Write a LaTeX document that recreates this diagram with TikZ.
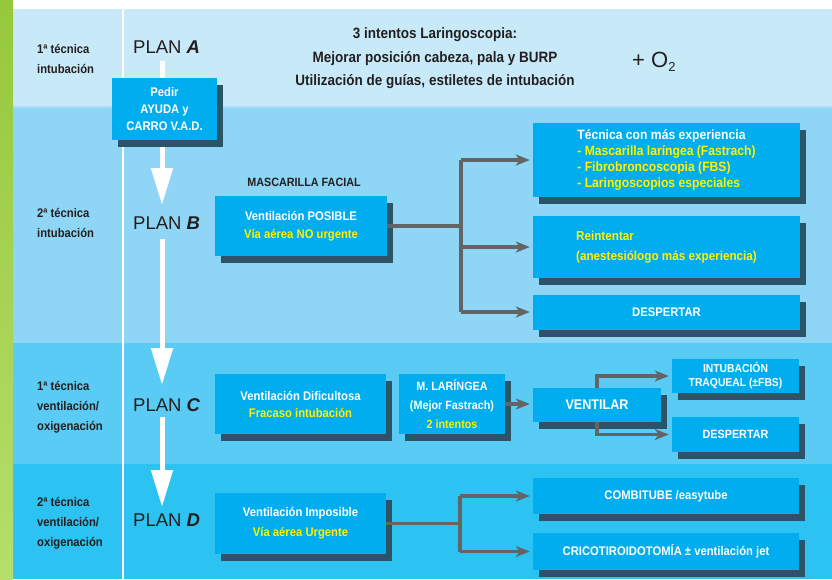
\documentclass[tikz,border=0pt]{standalone}
\usepackage{fontspec}
\setmainfont{Liberation Sans}
\newfontfamily\cf[FakeStretch=0.9]{Liberation Sans}
\usetikzlibrary{arrows.meta,shadows}

\definecolor{bandA}{HTML}{C8E9F8}
\definecolor{bandB}{HTML}{8FD6F6}
\definecolor{bandC}{HTML}{5ACBF4}
\definecolor{bandD}{HTML}{2CC3F2}
\definecolor{bandEdge}{HTML}{A6DEF7}
\definecolor{greenA}{HTML}{96C83C}
\definecolor{greenB}{HTML}{B6DE6C}
\definecolor{boxblue}{HTML}{00ADEE}
\definecolor{shade}{HTML}{2D5366}
\definecolor{hi}{HTML}{FFF200}
\definecolor{linkgray}{HTML}{636466}
\definecolor{ink}{HTML}{231F20}

\tikzset{
  box/.style={fill=boxblue, draw=none, inner sep=0pt, align=center, text=white,
    font=\cf\bfseries\fontsize{12.5}{17}\selectfont,
    drop shadow={shadow xshift=6pt, shadow yshift=-7pt, fill=shade, opacity=1}},
  link/.style={draw=linkgray, line width=3.8pt},
  arr/.style={link, -{Stealth[length=14pt,width=11pt,inset=4pt]}, shorten >=3pt},
  flow/.style={draw=white, line width=5pt, -{Triangle[length=37pt,width=21pt]}},
  lbl/.style={font=\cf\bfseries\fontsize{12.5}{20}\selectfont, text=ink, align=left,
    anchor=west, inner sep=0pt},
  plan/.style={font=\fontsize{18.5}{20}\selectfont, text=ink, inner sep=0pt, anchor=west},
}
\newcommand{\hl}[1]{\textcolor{hi}{#1}}

\begin{document}
\begin{tikzpicture}[x=1pt,y=-1pt]
\useasboundingbox (0,0) rectangle (832,579);

% background bands
\fill[white] (0,0) rectangle (832,9);
\fill[bandA] (13,9) rectangle (832,107);
\fill[bandB] (13,107) rectangle (832,342);
\fill[bandC] (13,342) rectangle (832,463);
\fill[bandD] (13,463) rectangle (832,579);
\fill[bandEdge] (13,105.5) rectangle (832,107.5);
\fill[bandB] (13,340.5) rectangle (832,342.5);
\fill[bandC] (13,461.5) rectangle (832,463.5);
\shade[top color=greenA, bottom color=greenB] (0,0) rectangle (13,579);
\fill[white] (122,9) rectangle (124,579);

% row labels
\node[lbl] (lA) at (37,59) {1ª técnica\\intubación};
\node[lbl] (lB) at (37,223) {2ª técnica\\intubación};
\node[lbl] (lC) at (37,407) {1ª técnica\\ventilación/\\oxigenación};
\node[lbl] (lD) at (37,523) {2ª técnica\\ventilación/\\oxigenación};

% plans
\node[plan] (pA) at (133,47) {PLAN \textbf{\textit{A}}};
\node[plan] (pB) at (133,223) {PLAN \textbf{\textit{B}}};
\node[plan] (pC) at (133,405) {PLAN \textbf{\textit{C}}};
\node[plan] (pD) at (133,520) {PLAN \textbf{\textit{D}}};

% flow between plans
\coordinate (fA0) at (162,61);  \coordinate (fA1) at (162,205);
\coordinate (fB0) at (162,239); \coordinate (fB1) at (162,385);
\coordinate (fC0) at (162,417); \coordinate (fC1) at (162,507);
\draw[flow] (fA0) -- (fA1);
\draw[flow] (fB0) -- (fB1);
\draw[flow] (fC0) -- (fC1);

% header of plan A
\node[font=\cf\bfseries\fontsize{15}{23.5}\selectfont, text=ink, align=center, inner sep=0pt]
  (hdr) at (435,58.5) {3 intentos Laringoscopia:\\Mejorar posición cabeza, pala y BURP\\Utilización de guías, estiletes de intubación};
\node[font=\fontsize{22}{24}\selectfont, text=ink, inner sep=0pt, anchor=west]
  (oxy) at (632,62) {+ O\raisebox{-0.3ex}{\fontsize{13}{13}\selectfont 2}};

% boxes
\node[box, minimum width=105pt, minimum height=62pt] (pedir) at (164.5,109)
  {Pedir\\AYUDA y\\CARRO V.A.D.};

\node[font=\cf\bfseries\fontsize{12}{14}\selectfont, text=ink, inner sep=0pt] (masc) at (304,182) {MASCARILLA FACIAL};
\node[box, minimum width=172pt, minimum height=60pt, font=\cf\bfseries\fontsize{12.5}{18}\selectfont] (b1) at (301,226)
  {Ventilación POSIBLE\\\hl{Vía aérea NO urgente}};

\node[box, minimum width=267pt, minimum height=74pt, align=left, font=\cf\bfseries\fontsize{13.5}{16}\selectfont] (tec) at (666.5,160)
  {Técnica con más experiencia\\\hl{- Mascarilla laríngea (Fastrach)}\\\hl{- Fibrobroncoscopia (FBS)}\\\hl{- Laringoscopios especiales}};
\node[box, minimum width=267pt, minimum height=62pt, align=left, font=\cf\bfseries\fontsize{13}{20}\selectfont] (rein) at (666.5,247)
  {\hl{Reintentar}\\\hl{(anestesiólogo más experiencia)}};
\node[box, minimum width=267pt, minimum height=35pt] (despB) at (666.5,312) {DESPERTAR};

\node[box, minimum width=171pt, minimum height=60pt] (vdif) at (300.5,404)
  {Ventilación Dificultosa\\\hl{Fracaso intubación}};
\node[box, minimum width=106pt, minimum height=60pt, font=\cf\bfseries\fontsize{12}{19}\selectfont] (mlar) at (452,404)
  {M. LARÍNGEA\\(Mejor Fastrach)\\\hl{2 intentos}};
\node[box, minimum width=128pt, minimum height=34pt, font=\cf\bfseries\fontsize{14}{16}\selectfont] (vent) at (597,405) {VENTILAR};
\node[box, minimum width=127pt, minimum height=34pt, font=\cf\bfseries\fontsize{11.5}{14}\selectfont] (intub) at (735.5,376)
  {INTUBACIÓN\\TRAQUEAL (±FBS)};
\node[box, minimum width=127pt, minimum height=35pt, font=\cf\bfseries\fontsize{12}{14}\selectfont] (despC) at (735.5,434.5) {DESPERTAR};

\node[box, minimum width=171pt, minimum height=61pt, font=\cf\bfseries\fontsize{12.5}{20}\selectfont] (vimp) at (300.5,523.5)
  {Ventilación Imposible\\\hl{Vía aérea Urgente}};
\node[box, minimum width=266pt, minimum height=36pt] (combi) at (666,496) {COMBITUBE /easytube};
\node[box, minimum width=266pt, minimum height=37pt] (crico) at (666,551.5)
  {CRICOTIROIDOTOMÍA ± ventilación jet};

% connectors of plan B
\coordinate (jB) at (b1.east -| 461,0);
\draw[link] (b1.east) -- (jB);
\draw[link] (jB |- tec.west) -- (jB |- despB.west);
\draw[arr] (jB |- tec.west) -- (tec.west);
\draw[arr] (jB |- rein.west) -- (rein.west);
\draw[arr] (jB |- despB.west) -- (despB.west);

% connectors of plan C
\draw[arr] (mlar.east) -- (mlar.east -| vent.west);
\draw[arr] (vent.north) |- (intub.west);
\draw[arr] (vent.south) |- (despC.west);

% connectors of plan D
\coordinate (jD) at (vimp.east -| 460,0);
\draw[link] (vimp.east) -- (jD);
\draw[link] (jD |- combi.west) -- (jD |- crico.west);
\draw[arr] (jD |- combi.west) -- (combi.west);
\draw[arr] (jD |- crico.west) -- (crico.west);
\end{tikzpicture}
\end{document}
